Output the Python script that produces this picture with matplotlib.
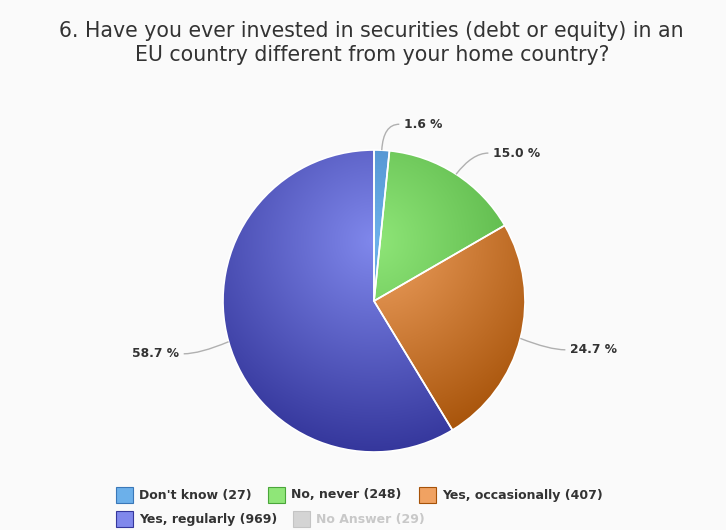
import numpy as np
import matplotlib
matplotlib.use("Agg")
import matplotlib.pyplot as plt
from matplotlib.path import Path
from matplotlib.patches import PathPatch, Rectangle
from matplotlib.colors import to_rgb

# data
labels = ["Don't know", "No, never", "Yes, occasionally", "Yes, regularly"]
counts = [27, 248, 407, 969]
no_answer = 29
light_cols = ["#6cb0ea", "#8fe678", "#f0a262", "#8088ec"]
dark_cols = ["#3a78b8", "#4aa63a", "#a65208", "#35379c"]
title = ("6. Have you ever invested in securities (debt or equity) in an\n"
         "EU country different from your home country?")

W, H = 726, 530
fig = plt.figure(figsize=(W / 100, H / 100), dpi=100, facecolor="#fafafa")
ax = fig.add_axes([0, 0, 1, 1])

cx, cy, r = 374, H - 301, 151
wedges, _ = ax.pie(counts, center=(cx, cy), radius=r, startangle=90,
                   counterclock=False, frame=True,
                   wedgeprops=dict(edgecolor="white", linewidth=1.2))

# radial gradient, focal point a bit above the centre (highcharts style)
fx, fy, fr = cx, cy + r - 0.3 * 2 * r, 0.7 * 2 * r
yy, xx = np.mgrid[cy - r:cy + r:400j, cx - r:cx + r:400j]
t = np.clip(np.hypot(xx - fx, yy - fy) / fr, 0, 1)[..., None]

for w, lc, dc in zip(wedges, light_cols, dark_cols):
    img = (1 - t) * np.array(to_rgb(lc)) + t * np.array(to_rgb(dc))
    w.set_facecolor("none")
    im = ax.imshow(img, extent=(cx - r, cx + r, cy - r, cy + r),
                   origin="lower", zorder=1, interpolation="bilinear")
    im.set_clip_path(w)
    w.set_zorder(2)
ax.set_xlim(0, W)
ax.set_ylim(0, H)
ax.set_aspect("equal")
ax.axis("off")

# data labels with connectors
total = sum(counts)
start = 90.0
for c in counts:
    frac = c / total
    mid = np.deg2rad(start - frac * 180)
    start -= frac * 360
    dx, dy = np.cos(mid), np.sin(mid)
    p0 = (cx + r * dx, cy + r * dy)
    p1 = (cx + (r + 30) * dx, cy + (r + 30) * dy - 4)
    s = 1 if dx >= 0 else -1
    p2 = (p1[0] + 16 * s, p1[1])
    path = Path([p0, p1, p2], [Path.MOVETO, Path.CURVE3, Path.CURVE3])
    ax.add_patch(PathPatch(path, fc="none", ec="#b0b0b0", lw=1, zorder=3))
    ax.text(p2[0] + 5 * s, p2[1], "%.1f %%" % (frac * 100),
            ha="left" if s > 0 else "right", va="center",
            fontsize=8.8, fontweight="bold", color="#333333")

fig.text(0.512, 1 - 43 / H, title, ha="center", va="center",
         fontsize=14.8, color="#333333", linespacing=1.2)

# legend
items = [(l + " (%d)" % c, lc, dc, "#333333") for l, c, lc, dc in
         zip(labels, counts, light_cols, dark_cols)]
items.append(("No Answer (%d)" % no_answer, "#d4d4d4", "#c4c4c4", "#c8c8c8"))
pos = [(116, 495), (268, 495), (419, 495), (116, 519), (293, 519)]
for (txt, lc, dc, tc), (x, y) in zip(items, pos):
    ax.add_patch(Rectangle((x, H - y - 8), 17, 16, fc=lc, ec=dc, lw=0.8))
    ax.text(x + 23, H - y, txt, ha="left", va="center", fontsize=9,
            fontweight="bold", color=tc)

fig.savefig("out.png", dpi=100, facecolor=fig.get_facecolor())
